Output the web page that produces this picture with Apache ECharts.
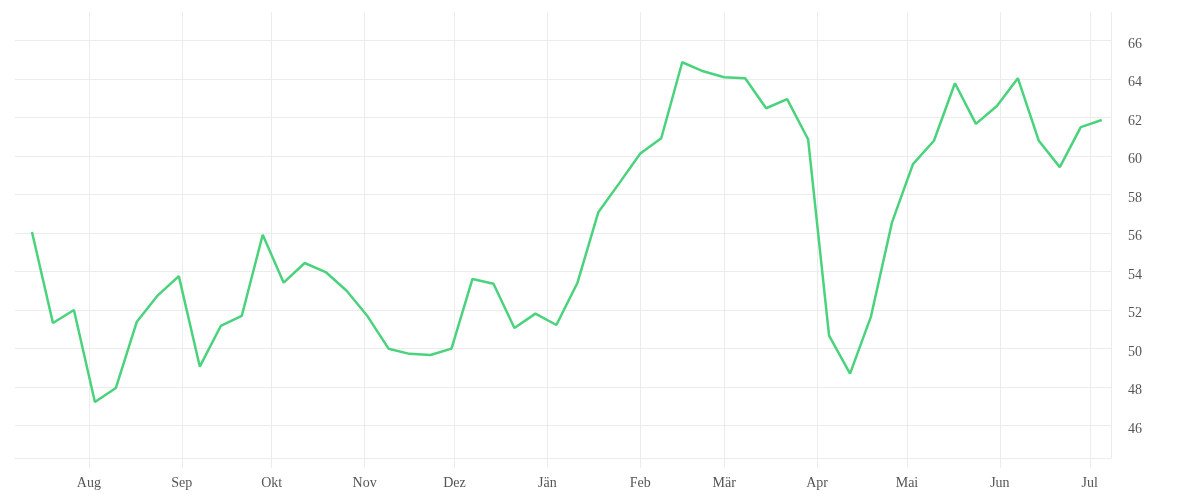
<!DOCTYPE html>
<html>
<head>
<meta charset="utf-8">
<script src="https://cdn.jsdelivr.net/npm/echarts@6/dist/echarts.min.js"></script>
<style>
html,body{margin:0;padding:0;background:#fff;}
#chart{width:1200px;height:500px;}
</style>
</head>
<body>
<div id="chart"></div>
<script>
// Weekly observations (start date, then one value per week)
const startDate = '2020-07-13';
const values = [
  56.06, 51.33, 52.01, 47.23, 47.96, 51.40, 52.77, 53.77, 49.07, 51.18,
  51.70, 55.92, 53.43, 54.45, 53.98, 53.01, 51.68, 50.00, 49.73, 49.67,
  50.00, 53.62, 53.37, 51.07, 51.82, 51.23, 53.41, 57.09, 58.60, 60.14,
  60.93, 64.88, 64.41, 64.10, 64.05, 62.49, 62.96, 60.88, 50.68, 48.70,
  51.68, 56.56, 59.59, 60.80, 63.79, 61.68, 62.61, 64.05, 60.80, 59.43,
  61.51, 61.88
];
const monthLabels = ['Jän','Feb','Mär','Apr','Mai','Jun','Jul','Aug','Sep','Okt','Nov','Dez'];
const xMin = '2020-07-07T08:00:00Z';
const xMax = '2021-07-08T02:00:00Z';
const yMin = 44.32;
const yMax = 67.49;

const DAY = 86400000;
const t0 = Date.parse(startDate + 'T00:00:00Z');
const seriesData = values.map((v, i) => [t0 + i * 7 * DAY, v]);

const grid = '#ececec';
const textColor = '#555';
const font = '"Liberation Serif", "DejaVu Serif", serif';

const chart = echarts.init(document.getElementById('chart'), null, {renderer: 'canvas'});
chart.setOption({
  animation: false,
  backgroundColor: '#fff',
  grid: {left: 15, right: 89, top: 12, bottom: 42, containLabel: false},
  xAxis: {
    type: 'time',
    min: Date.parse(xMin),
    max: Date.parse(xMax),
    splitNumber: 12,
    minInterval: 28 * DAY,
    maxInterval: 31 * DAY,
    axisLine: {show: true, lineStyle: {color: grid, width: 1}},
    axisTick: {show: true, length: 10, lineStyle: {color: grid}},
    splitLine: {show: true, lineStyle: {color: ['transparent'].concat(Array(20).fill(grid)), width: 1}},
    axisLabel: {
      color: textColor, fontFamily: font, fontSize: 14, margin: 18,
      formatter: function (val) {
        const d = new Date(val);
        if (d.getUTCDate() !== 1 || d.getUTCHours() !== 0) return '';
        return monthLabels[d.getUTCMonth()];
      }
    }
  },
  yAxis: {
    type: 'value',
    position: 'right',
    min: yMin,
    max: yMax,
    minInterval: 2,
    maxInterval: 2,
    axisLine: {show: false},
    axisTick: {show: false},
    splitLine: {show: true, lineStyle: {color: Array(12).fill(grid).concat(['transparent']), width: 1}},
    axisLabel: {
      color: textColor, fontFamily: font, fontSize: 14, margin: 17,
      showMinLabel: false, showMaxLabel: false,
      rich: {v: {color: textColor, fontFamily: font, fontSize: 14, padding: [7, 0, 0, 0]}},
      formatter: function (v) { return (Math.abs(v - Math.round(v)) < 1e-6) ? '{v|' + Math.round(v) + '}' : ''; }
    }
  },
  series: [{
    type: 'line',
    data: seriesData,
    showSymbol: false,
    symbol: 'none',
    lineStyle: {color: '#4ad27c', width: 2.5},
    itemStyle: {color: '#4ad27c'}
  }]
});
</script>
</body>
</html>
